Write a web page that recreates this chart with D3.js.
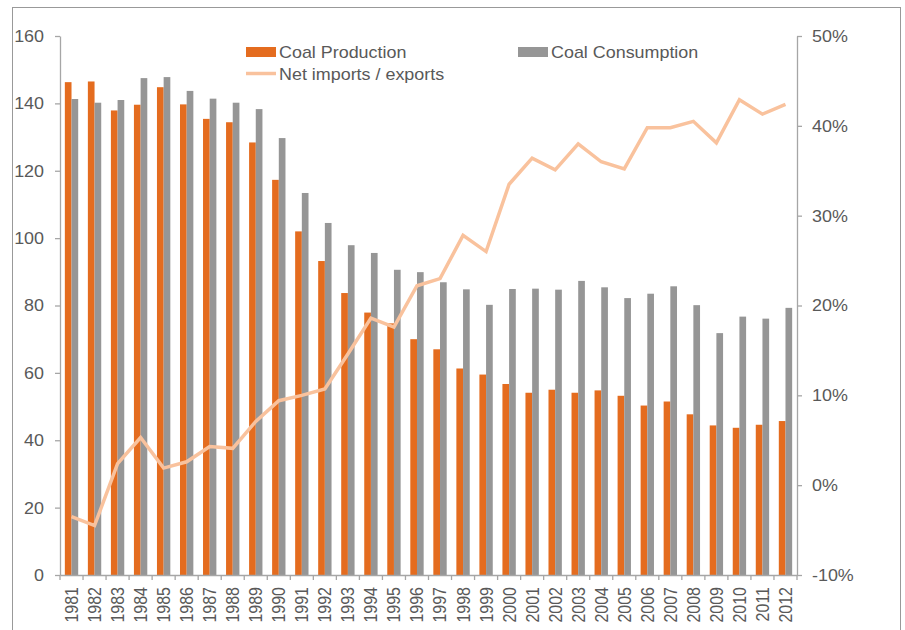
<!DOCTYPE html>
<html>
<head>
<meta charset="utf-8">
<script src="https://cdn.jsdelivr.net/npm/d3@7/dist/d3.min.js"></script>
<style>
  html, body { margin: 0; padding: 0; background: #fff; }
  svg { display: block; }
  text { font-family: "Liberation Sans", Arial, sans-serif; }
</style>
</head>
<body>
<svg id="chart" width="905" height="630"></svg>
<script>
// Coal production and consumption (million tonnes) with net imports share (%)
const years = ["1981","1982","1983","1984","1985","1986","1987","1988","1989","1990",
               "1991","1992","1993","1994","1995","1996","1997","1998","1999","2000",
               "2001","2002","2003","2004","2005","2006","2007","2008","2009","2010",
               "2011","2012"];
const production = [146.3,146.5,137.9,139.6,144.8,139.7,135.4,134.4,128.4,117.3,
                    102.0,93.2,83.7,77.9,74.7,70.0,67.0,61.3,59.5,56.7,
                    54.1,55.0,54.1,54.8,53.2,50.3,51.5,47.7,44.4,43.7,
                    44.6,45.7];
const consumption = [141.3,140.2,141.0,147.5,147.8,143.7,141.4,140.2,138.3,129.7,
                     113.4,104.5,97.9,95.6,90.6,89.9,86.9,84.8,80.2,84.9,
                     85.0,84.7,87.3,85.4,82.2,83.5,85.7,80.1,71.8,76.7,
                     76.1,79.3];
const netImports = [-3.5,-4.5,2.4,5.3,1.9,2.6,4.3,4.1,7.1,9.4,
                    10.0,10.7,14.6,18.6,17.6,22.2,23.0,27.8,26.0,33.5,
                    36.4,35.1,38.0,36.0,35.2,39.8,39.8,40.5,38.1,42.9,
                    41.3,42.4];
const leftTicks = [0,20,40,60,80,100,120,140,160];
const rightTicks = [-10,0,10,20,30,40,50];
const seriesNames = ["Coal Production","Coal Consumption","Net imports / exports"];

const COL_PROD = "#E46C1F";
const COL_CONS = "#969696";
const COL_LINE = "#F9C29D";
const COL_TEXT = "#595959";
const COL_AXIS = "#A6A6A6";
const SX = 1.12;           // horizontal text stretch
const FONT = 16;

const svg = d3.select("#chart");

// outer frame
svg.append("rect")
  .attr("x", 12.5).attr("y", 7.5)
  .attr("width", 888).attr("height", 700)
  .attr("fill", "none").attr("stroke", "#999").attr("stroke-width", 1);

const plot = { left: 60, right: 797, top: 36, bottom: 575 };

const x = d3.scaleBand().domain(years).range([plot.left, plot.right]).padding(0);
const x1 = d3.scaleBand().domain(["prod","cons"])
  .range([x.bandwidth() * 0.21, x.bandwidth() * 0.79]).padding(0);
const yL = d3.scaleLinear().domain([0,160]).range([plot.bottom, plot.top]);
const yR = d3.scaleLinear().domain([-10,50]).range([plot.bottom, plot.top]);

// bars
const groups = svg.append("g").selectAll("g")
  .data(years.map((yr, i) => ({ yr, prod: production[i], cons: consumption[i] })))
  .join("g")
  .attr("transform", d => `translate(${x(d.yr)},0)`);

groups.append("rect")
  .attr("x", x1("prod")).attr("width", x1.bandwidth())
  .attr("y", d => yL(d.prod)).attr("height", d => yL(0) - yL(d.prod))
  .attr("fill", COL_PROD);
groups.append("rect")
  .attr("x", x1("cons")).attr("width", x1.bandwidth())
  .attr("y", d => yL(d.cons)).attr("height", d => yL(0) - yL(d.cons))
  .attr("fill", COL_CONS);

// net imports line
const line = d3.line()
  .x((d, i) => x(years[i]) + x.bandwidth() / 2)
  .y(d => yR(d));
svg.append("path")
  .datum(netImports)
  .attr("d", line)
  .attr("fill", "none")
  .attr("stroke", COL_LINE)
  .attr("stroke-width", 3.5)
  .attr("stroke-linejoin", "miter");

function styleAxis(g) {
  g.selectAll(".domain").attr("stroke", COL_AXIS).attr("stroke-width", 1.3);
  g.selectAll(".tick line").attr("stroke", COL_AXIS).attr("stroke-width", 1.3);
  g.selectAll("text").attr("fill", COL_TEXT).attr("font-size", FONT)
    .attr("font-family", "'Liberation Sans', Arial, sans-serif");
}

// left axis
const gL = svg.append("g")
  .attr("transform", `translate(${plot.left},0)`)
  .call(d3.axisLeft(yL).tickValues(leftTicks).tickSize(5).tickSizeOuter(0).tickPadding(0));
styleAxis(gL);
gL.selectAll(".tick text")
  .attr("x", -16 / SX).attr("dy", "0.34em")
  .attr("transform", `scale(${SX},1)`);

// right axis
const gR = svg.append("g")
  .attr("transform", `translate(${plot.right},0)`)
  .call(d3.axisRight(yR).tickValues(rightTicks).tickSize(5).tickSizeOuter(0)
    .tickFormat(d => d + "%"));
styleAxis(gR);
gR.selectAll(".tick text")
  .attr("x", 15 / SX).attr("dy", "0.34em")
  .attr("transform", `scale(${SX},1)`);

// bottom axis: ticks on category boundaries
const gB = svg.append("g")
  .attr("transform", `translate(0,${plot.bottom})`)
  .call(d3.axisBottom(x).tickSize(0).tickSizeOuter(0));
styleAxis(gB);
gB.selectAll(".tick line").remove();
gB.selectAll(".tick text")
  .attr("x", 0).attr("y", 0).attr("dy", "0.36em")
  .attr("text-anchor", "end")
  .attr("transform", `translate(0,12) scale(${SX},1) rotate(-90)`);
const boundaries = years.map(yr => x(yr)).concat([x(years[years.length - 1]) + x.bandwidth()]);
gB.append("g").selectAll("line")
  .data(boundaries).join("line")
  .attr("x1", d => d).attr("x2", d => d)
  .attr("y1", 0).attr("y2", 5)
  .attr("stroke", COL_AXIS).attr("stroke-width", 1.3);

// legend
const legend = svg.append("g");
function legendText(xp, yp, label) {
  legend.append("text")
    .attr("transform", `translate(${xp},${yp}) scale(${SX},1)`)
    .attr("font-size", FONT).attr("fill", COL_TEXT)
    .text(label);
}
legend.append("rect").attr("x", 246).attr("y", 47).attr("width", 30).attr("height", 10).attr("fill", COL_PROD);
legendText(279, 58, seriesNames[0]);
legend.append("rect").attr("x", 518).attr("y", 47).attr("width", 30).attr("height", 10).attr("fill", COL_CONS);
legendText(551, 58, seriesNames[1]);
legend.append("line").attr("x1", 246).attr("x2", 276).attr("y1", 73.5).attr("y2", 73.5)
  .attr("stroke", COL_LINE).attr("stroke-width", 3.5);
legendText(279, 80, seriesNames[2]);
</script>
</body>
</html>
